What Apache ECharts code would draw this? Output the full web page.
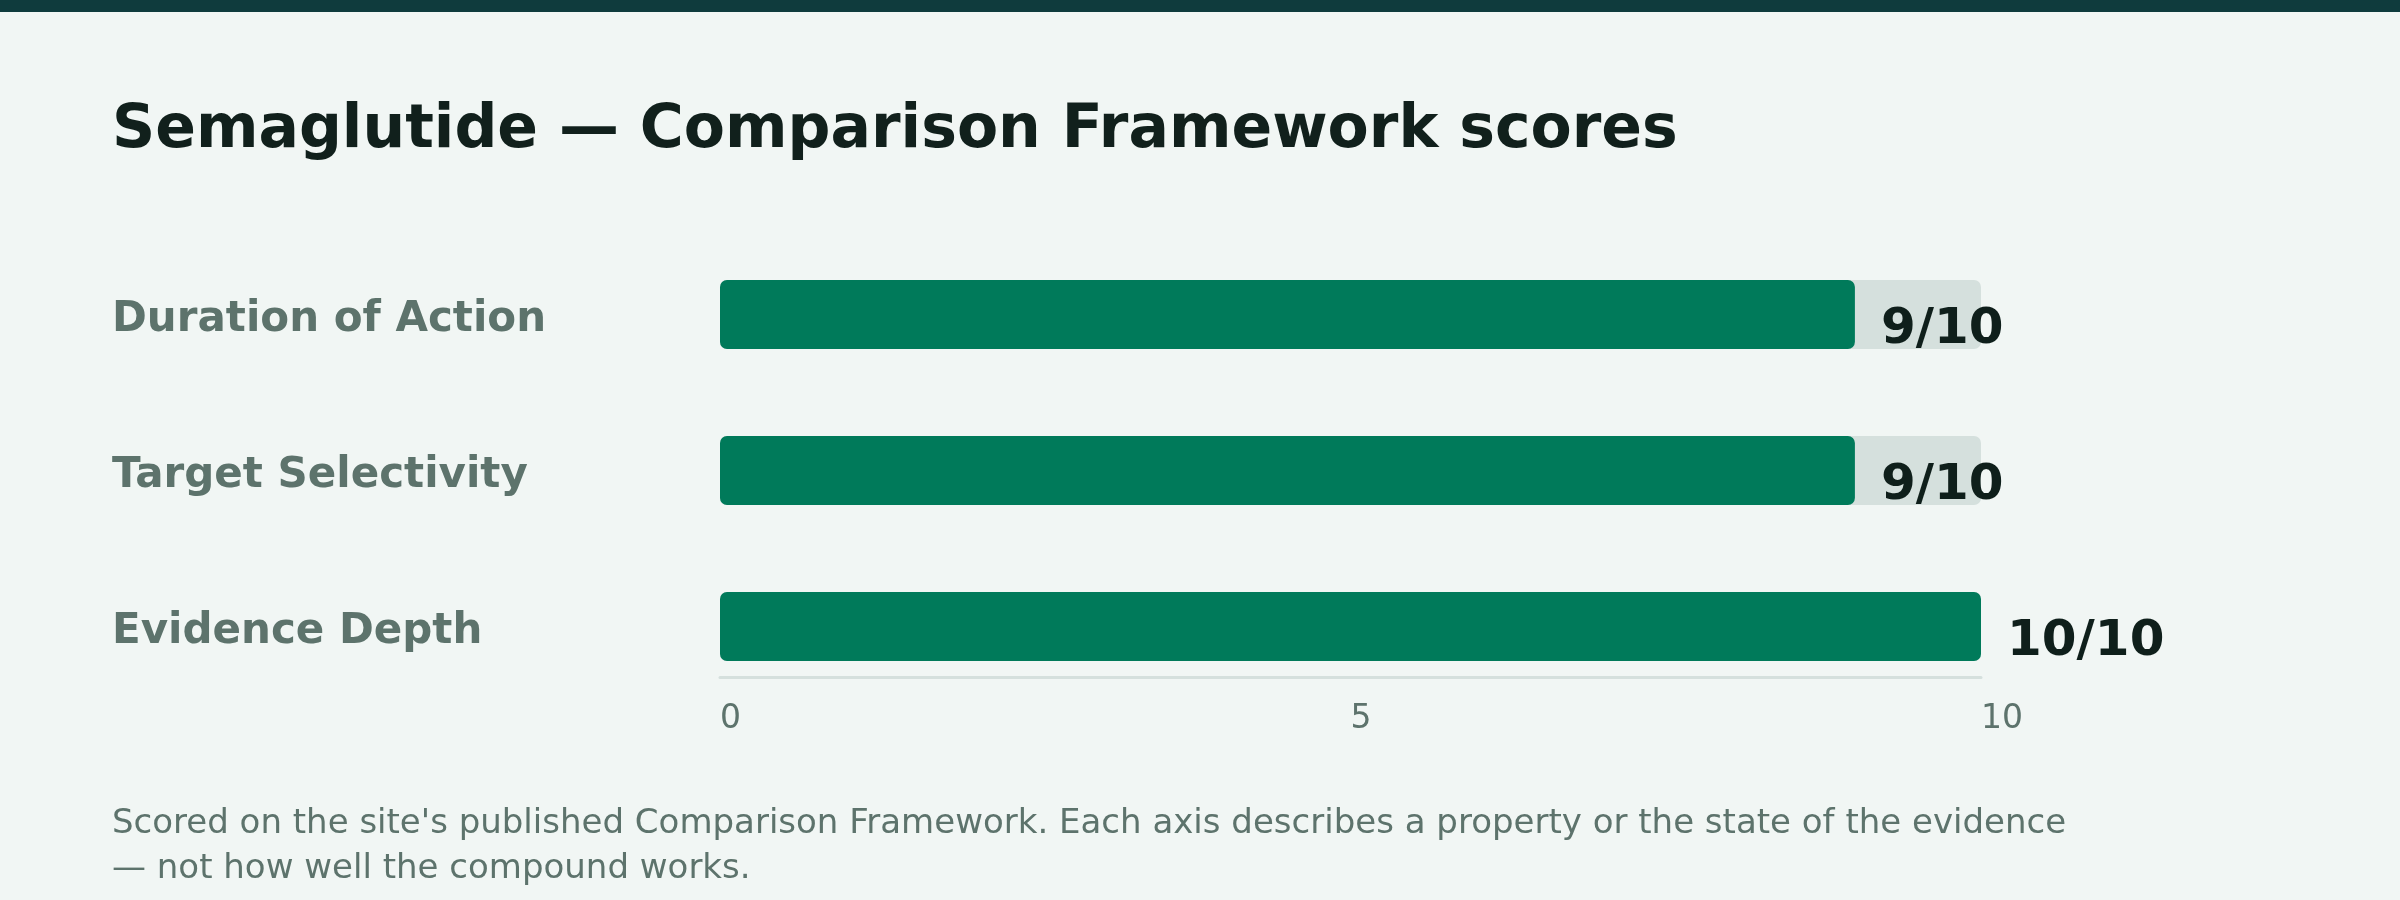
<!DOCTYPE html>
<html>
<head>
<meta charset="utf-8">
<title>Semaglutide — Comparison Framework scores</title>
<script src="https://cdn.jsdelivr.net/npm/echarts@6/dist/echarts.min.js"></script>
<style>
  html, body { margin: 0; padding: 0; background: #f1f6f4; }
  #topbar { height: 12px; background: #0f3b3d; }
  #main { width: 2400px; height: 888px; }
</style>
</head>
<body>
<div id="topbar"></div>
<div id="main"></div>
<script>
// 数据
const categories = ["Duration of Action", "Target Selectivity", "Evidence Depth"];
const scores = [9, 9, 10];
const maxScore = 10;
const tickStep = 5;

const footnote = "Scored on the site's published Comparison Framework. Each axis describes a property or the state of the evidence\n— not how well the compound works.";

const myChart = echarts.init(document.getElementById("main"));

const option = {
  backgroundColor: "#f1f6f4",
  textStyle: { fontFamily: "DejaVu Sans" },
  title: [
    {
      text: "Semaglutide — Comparison Framework scores",
      left: 112,
      top: 89,
      padding: 0,
      textStyle: { fontSize: 60, fontWeight: "bold", color: "#11201c", fontFamily: "DejaVu Sans" }
    },
    {
      text: footnote,
      left: 112,
      top: 790,
      padding: 0,
      textStyle: { fontSize: 34, fontWeight: "normal", color: "#5d736c", lineHeight: 45, fontFamily: "DejaVu Sans" }
    }
  ],
  grid: { left: 720, right: 419, top: 224.5, height: 468, containLabel: false },
  xAxis: {
    type: "value",
    min: 0,
    max: maxScore,
    interval: tickStep,
    offset: -27,
    axisLine: { show: true, lineStyle: { color: "#d5e0dd", width: 3 } },
    axisTick: { show: false },
    splitLine: { show: false },
    axisLabel: { color: "#5d736c", fontSize: 33, align: "left", margin: 25 }
  },
  yAxis: {
    type: "category",
    data: categories,
    inverse: true,
    axisLine: { show: false },
    axisTick: { show: false },
    axisLabel: {
      align: "left",
      margin: 608,
      formatter: v => "{c|" + v + "}",
      rich: {
        c: { color: "#5d736c", fontSize: 42, fontWeight: "bold", fontFamily: "DejaVu Sans", padding: [12, 0, 0, 0] }
      }
    }
  },
  series: [
    {
      type: "bar",
      data: scores,
      barWidth: 69,
      itemStyle: { color: "#007a5a", borderRadius: 7 },
      showBackground: true,
      backgroundStyle: { color: "#d5e0dd", borderRadius: 7 },
      label: {
        show: true,
        position: "right",
        distance: 26,
        offset: [0, 16],
        formatter: p => p.value + "/" + maxScore,
        fontSize: 50,
        fontWeight: "bold",
        color: "#0f1f1b"
      },
      animation: false
    }
  ]
};

myChart.setOption(option);
</script>
</body>
</html>
